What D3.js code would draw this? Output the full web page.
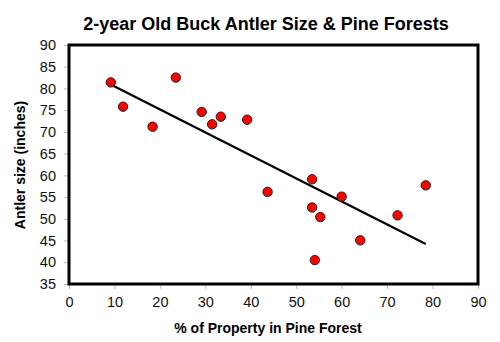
<!DOCTYPE html>
<html><head><meta charset="utf-8">
<script src="https://cdn.jsdelivr.net/npm/d3@7"></script>
<style>body{margin:0;background:#fff}svg{display:block}text{font-family:"Liberation Sans",Arial,sans-serif}</style>
</head><body>
<script>
const pinePct = [9.2, 11.9, 18.4, 23.5, 29.2, 31.5, 33.4, 39.2, 43.7, 53.5, 53.5, 55.3, 54.1, 60.0, 64.1, 72.3, 78.5];
const antler  = [81.4, 75.8, 71.2, 82.5, 74.6, 71.75, 73.5, 72.8, 56.2, 59.1, 52.6, 50.4, 40.5, 55.1, 45.05, 50.8, 57.7];
const trendX = [9.4, 78.5];
const trendY = [80.8, 44.2];
const xTicks = [0,10,20,30,40,50,60,70,80,90];
const yTicks = [35,40,45,50,55,60,65,70,75,80,85,90];

const W=500,H=342;
const m={l:69,r:478,t:45,b:284};
const svg=d3.select("body").append("svg").attr("width",W).attr("height",H);
const x=d3.scaleLinear().domain([0,90]).range([m.l,m.r]);
const y=d3.scaleLinear().domain([35,90]).range([m.b,m.t]);

svg.append("text").attr("x",266).attr("y",30).attr("text-anchor","middle")
  .attr("font-size",18).attr("font-weight","bold").text("2-year Old Buck Antler Size & Pine Forests");

const ya=svg.append("g").attr("transform",`translate(${m.l},0)`)
  .call(d3.axisLeft(y).tickValues(yTicks).tickSize(5).tickPadding(8));
const xa=svg.append("g").attr("transform",`translate(0,${m.b})`)
  .call(d3.axisBottom(x).tickValues(xTicks).tickSize(5).tickPadding(8));
[ya,xa].forEach(g=>{
  g.select(".domain").remove();
  g.selectAll(".tick line").attr("stroke","#bbb");
  g.selectAll(".tick text").attr("font-size",14.5).attr("fill","#111").style("font-family","Liberation Sans, Arial, sans-serif");
});

svg.append("rect").attr("x",m.l).attr("y",m.t).attr("width",m.r-m.l).attr("height",m.b-m.t)
  .attr("fill","none").attr("stroke","#000").attr("stroke-width",3);

svg.append("line").attr("x1",x(trendX[0])).attr("y1",y(trendY[0]))
  .attr("x2",x(trendX[1])).attr("y2",y(trendY[1])).attr("stroke","#000").attr("stroke-width",2.2);

svg.append("g").selectAll("circle").data(pinePct).join("circle")
  .attr("cx",d=>x(d)).attr("cy",(d,i)=>y(antler[i])).attr("r",4.7)
  .attr("fill","#ff0000").attr("stroke","#222").attr("stroke-width",1);

svg.append("text").attr("x",268).attr("y",333).attr("text-anchor","middle")
  .attr("font-size",14).attr("font-weight","bold").text("% of Property in Pine Forest");
svg.append("text").attr("transform",`translate(25,165) rotate(-90)`).attr("text-anchor","middle")
  .attr("font-size",14).attr("font-weight","bold").text("Antler size (inches)");
</script>
</body></html>
